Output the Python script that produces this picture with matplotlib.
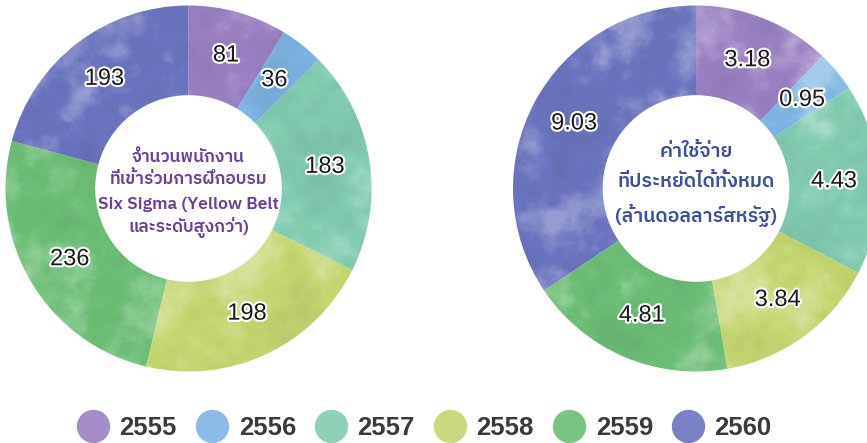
import numpy as np
import matplotlib
matplotlib.use("Agg")
import matplotlib.pyplot as plt
import matplotlib.patheffects as pe
from matplotlib.patches import Wedge
from matplotlib.lines import Line2D

years = ['2555', '2556', '2557', '2558', '2559', '2560']
staff = [81, 36, 183, 198, 236, 193]
savings = [3.18, 0.95, 4.43, 3.84, 4.81, 9.03]
colors = ['#9a80c2', '#7db5e4', '#82ccb0', '#c4d670', '#6cbe76', '#6a73be']

staff_title = ['จำนวนพนักงาน', 'ที่เข้าร่วมการฝึกอบรม', 'Six Sigma (Yellow Belt', 'และระดับสูงกว่า)']
savings_title = ['ค่าใช้จ่าย', 'ที่ประหยัดได้ทั้งหมด', '(ล้านดอลลาร์สหรัฐ)']

W, H = 867, 443
R = 183
fonts = ['IBM Plex Sans Thai', 'Noto Sans Thai']

fig = plt.figure(figsize=(W / 100, H / 100), dpi=100)
rng = np.random.default_rng(11)


def wash(n=360):
    # soft blotchy field for the watercolour look
    ky = np.fft.fftfreq(n)[:, None]
    kx = np.fft.fftfreq(n)[None, :]
    k2 = kx ** 2 + ky ** 2
    out = 0
    for sigma, w in [(0.010, 0.6), (0.035, 0.3), (0.12, 0.1)]:
        f = np.fft.fft2(rng.normal(size=(n, n)))
        g = np.real(np.fft.ifft2(f * np.exp(-k2 / (2 * sigma ** 2))))
        out = out + w * g / g.std()
    return out


def donut(cx, cy, values, labels, title, title_color, title_y, title_size):
    ax = fig.add_axes([(cx - R) / W, (H - cy - R) / H, 2 * R / W, 2 * R / H])
    wedges, texts = ax.pie(values, labels=labels, colors=colors, startangle=90,
                           counterclock=False, labeldistance=0.755,
                           wedgeprops=dict(width=0.49, linewidth=0),
                           textprops=dict(fontsize=17, color='#1a1a1a',
                                          family='Liberation Sans'))
    for t in texts:
        t.set_ha('center')
        t.set_va('center')
        t.set_zorder(5)
        t.set_path_effects([pe.withStroke(linewidth=3, foreground='white')])

    n = wash()
    rgba = np.zeros(n.shape + (4,))
    rgba[..., :3] = np.where(n[..., None] > 0, 1.0, 0.2)
    rgba[..., 3] = np.clip(np.where(n > 0, 0.2 * n, -0.05 * n), 0, 0.3)
    im = ax.imshow(rgba, extent=(-1, 1, -1, 1), zorder=3, interpolation='bilinear')
    ring = Wedge((0, 0), 1, 0, 360, width=0.49, fc='none', ec='none')
    ax.add_patch(ring)
    im.set_clip_path(ring)

    for line, y in zip(title, title_y):
        ax.text(0, y, line, ha='center', va='baseline', color=title_color,
                fontsize=title_size, family=fonts, weight='semibold', zorder=6)
    ax.set_xlim(-1, 1)
    ax.set_ylim(-1, 1)
    ax.axis('off')


donut(188.5, 188.5, staff, [str(v) for v in staff], staff_title, '#6a3d9e',
      [0.146, 0.023, -0.114, -0.236], 12.5)
donut(696, 188.5, savings, ['%.2f' % v for v in savings], savings_title, '#3b4ea3',
      [0.174, 0.010, -0.181], 14)

handles = [Line2D([], [], marker='o', ls='', ms=24, mfc=c, mec='none', alpha=0.9)
           for c in colors]
fig.legend(handles, years, loc='center', bbox_to_anchor=(423.3 / W, 1 - 428 / H),
           ncol=6, frameon=False, labelcolor='#3a3a3a',
           prop=dict(family='Liberation Sans', weight='bold', size=18.5),
           handlelength=1.4, handletextpad=0.34, columnspacing=0.66,
           borderpad=0, borderaxespad=0)

fig.savefig('out.png', dpi=100)
